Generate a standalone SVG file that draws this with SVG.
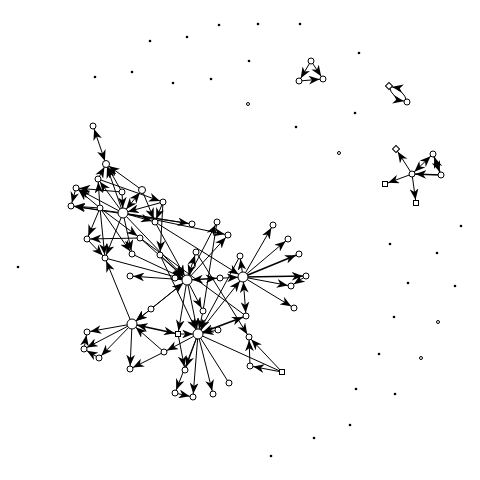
<svg xmlns="http://www.w3.org/2000/svg" width="480" height="480" viewBox="0 0 480 480">
<style>
.e{stroke:#000;stroke-width:1;fill:none}
.n{fill:#fff;stroke:#000;stroke-width:1}
.d{fill:#000}
</style>
<defs>
<marker id="a" viewBox="0 0 10 8" refX="13" refY="4" markerWidth="11" markerHeight="8.8" markerUnits="userSpaceOnUse" orient="auto-start-reverse"><path d="M0,0 L10,4 L0,8 L3,4 z"/></marker>
<marker id="h" viewBox="0 0 10 8" refX="14.5" refY="4" markerWidth="11" markerHeight="8.8" markerUnits="userSpaceOnUse" orient="auto-start-reverse"><path d="M0,0 L10,4 L0,8 L3,4 z"/></marker>
</defs>
<rect width="480" height="480" fill="#fff"/>
<g id="connectors">
<line class="e" x1="93" y1="126" x2="106" y2="164" marker-start="url(#a)" marker-end="url(#a)"/>
<line class="e" x1="123" y1="213" x2="106" y2="164" marker-end="url(#a)"/>
<line class="e" x1="122" y1="192" x2="106" y2="164" marker-end="url(#a)"/>
<line class="e" x1="98" y1="179" x2="106" y2="164" marker-end="url(#a)"/>
<line class="e" x1="142" y1="190" x2="106" y2="164" marker-end="url(#a)"/>
<line class="e" x1="123" y1="213" x2="98" y2="179" marker-end="url(#a)"/>
<line class="e" x1="100" y1="208" x2="98" y2="179" marker-end="url(#a)"/>
<line class="e" x1="123" y1="213" x2="76" y2="188" marker-end="url(#a)"/>
<line class="e" x1="122" y1="192" x2="76" y2="188" marker-end="url(#a)"/>
<line class="e" x1="76" y1="188" x2="71" y2="206" marker-end="url(#a)"/>
<line class="e" x1="100" y1="208" x2="71" y2="206" marker-end="url(#a)"/>
<line class="e" x1="123" y1="213" x2="71" y2="206" marker-end="url(#a)"/>
<line class="e" x1="100" y1="208" x2="76" y2="188" marker-end="url(#a)"/>
<line class="e" x1="122" y1="192" x2="123" y2="213" marker-end="url(#h)"/>
<line class="e" x1="142" y1="190" x2="123" y2="213" marker-start="url(#a)" marker-end="url(#h)"/>
<line class="e" x1="163" y1="202" x2="123" y2="213" marker-end="url(#h)"/>
<line class="e" x1="98" y1="179" x2="163" y2="202" marker-end="url(#a)"/>
<line class="e" x1="140" y1="238" x2="87" y2="239" marker-end="url(#a)"/>
<line class="e" x1="87" y1="239" x2="105" y2="258" marker-end="url(#a)"/>
<line class="e" x1="100" y1="208" x2="105" y2="258" marker-end="url(#a)"/>
<line class="e" x1="123" y1="213" x2="105" y2="258" marker-end="url(#a)"/>
<line class="e" x1="100" y1="208" x2="87" y2="239" marker-end="url(#a)"/>
<line class="e" x1="123" y1="213" x2="155" y2="222" marker-end="url(#a)"/>
<line class="e" x1="123" y1="213" x2="192" y2="224" marker-end="url(#a)"/>
<line class="e" x1="71" y1="206" x2="192" y2="224"/>
<line class="e" x1="123" y1="213" x2="228" y2="235" marker-end="url(#a)"/>
<line class="e" x1="142" y1="190" x2="155" y2="222" marker-end="url(#a)"/>
<line class="e" x1="163" y1="202" x2="160" y2="255" marker-end="url(#a)"/>
<line class="e" x1="163" y1="202" x2="155" y2="222" marker-end="url(#a)"/>
<line class="e" x1="123" y1="213" x2="132" y2="254" marker-end="url(#a)"/>
<line class="e" x1="100" y1="208" x2="132" y2="254" marker-end="url(#a)"/>
<line class="e" x1="100" y1="208" x2="140" y2="238" marker-end="url(#a)"/>
<line class="e" x1="132" y1="254" x2="187" y2="280" marker-end="url(#h)"/>
<line class="e" x1="140" y1="238" x2="187" y2="280" marker-end="url(#h)"/>
<line class="e" x1="155" y1="222" x2="187" y2="280" marker-end="url(#h)"/>
<line class="e" x1="123" y1="213" x2="187" y2="280" marker-end="url(#h)"/>
<line class="e" x1="105" y1="258" x2="187" y2="280" marker-end="url(#h)"/>
<line class="e" x1="160" y1="255" x2="187" y2="280" marker-end="url(#h)"/>
<line class="e" x1="196" y1="252" x2="187" y2="280" marker-start="url(#a)" marker-end="url(#h)"/>
<line class="e" x1="187" y1="280" x2="130" y2="276" marker-end="url(#a)"/>
<line class="e" x1="187" y1="280" x2="217" y2="222" marker-end="url(#a)"/>
<line class="e" x1="187" y1="280" x2="228" y2="235" marker-end="url(#a)"/>
<line class="e" x1="187" y1="280" x2="243" y2="277" marker-start="url(#h)" marker-end="url(#h)"/>
<line class="e" x1="187" y1="280" x2="220" y2="278" marker-end="url(#a)"/>
<line class="e" x1="175" y1="278" x2="187" y2="280"/>
<line class="e" x1="243" y1="277" x2="240" y2="256" marker-end="url(#a)"/>
<line class="e" x1="243" y1="277" x2="273" y2="225" marker-end="url(#a)"/>
<line class="e" x1="243" y1="277" x2="288" y2="239" marker-end="url(#a)"/>
<line class="e" x1="243" y1="277" x2="299" y2="254" marker-end="url(#a)" style="stroke-width:1.5"/>
<line class="e" x1="243" y1="277" x2="306" y2="276" marker-end="url(#a)" style="stroke-width:1.5"/>
<line class="e" x1="243" y1="277" x2="291" y2="286" marker-end="url(#a)"/>
<line class="e" x1="243" y1="277" x2="294" y2="308" marker-end="url(#a)"/>
<line class="e" x1="306" y1="276" x2="291" y2="286" marker-end="url(#a)"/>
<line class="e" x1="243" y1="277" x2="246" y2="316" marker-start="url(#h)" marker-end="url(#a)"/>
<line class="e" x1="198" y1="334" x2="243" y2="277" marker-end="url(#h)"/>
<line class="e" x1="196" y1="252" x2="249" y2="337" marker-end="url(#a)"/>
<line class="e" x1="155" y1="222" x2="243" y2="277" marker-end="url(#h)"/>
<line class="e" x1="140" y1="238" x2="246" y2="316"/>
<line class="e" x1="160" y1="255" x2="198" y2="334" marker-end="url(#h)"/>
<line class="e" x1="240" y1="256" x2="198" y2="334" marker-end="url(#h)"/>
<line class="e" x1="217" y1="222" x2="203" y2="311"/>
<line class="e" x1="151" y1="309" x2="187" y2="280" marker-end="url(#h)"/>
<line class="e" x1="187" y1="280" x2="132" y2="324" marker-end="url(#h)"/>
<line class="e" x1="151" y1="309" x2="132" y2="324" marker-end="url(#h)"/>
<line class="e" x1="187" y1="280" x2="178" y2="334" marker-end="url(#a)"/>
<line class="e" x1="187" y1="280" x2="203" y2="311" marker-end="url(#a)"/>
<line class="e" x1="203" y1="311" x2="198" y2="334" marker-end="url(#h)"/>
<line class="e" x1="187" y1="280" x2="198" y2="334" marker-end="url(#h)"/>
<line class="e" x1="132" y1="324" x2="105" y2="258" marker-end="url(#a)"/>
<line class="e" x1="132" y1="324" x2="87" y2="332" marker-end="url(#a)"/>
<line class="e" x1="132" y1="324" x2="84" y2="349" marker-end="url(#a)"/>
<line class="e" x1="132" y1="324" x2="99" y2="358" marker-end="url(#a)"/>
<line class="e" x1="132" y1="324" x2="130" y2="369" marker-end="url(#a)"/>
<line class="e" x1="164" y1="352" x2="132" y2="324" marker-end="url(#h)"/>
<line class="e" x1="132" y1="324" x2="178" y2="334" marker-start="url(#h)" marker-end="url(#a)" style="stroke-width:1.5"/>
<line class="e" x1="164" y1="352" x2="130" y2="369" marker-end="url(#a)"/>
<line class="e" x1="84" y1="349" x2="87" y2="332" marker-end="url(#a)"/>
<line class="e" x1="99" y1="358" x2="84" y2="349" marker-end="url(#a)"/>
<line class="e" x1="198" y1="334" x2="164" y2="352" marker-end="url(#a)"/>
<line class="e" x1="178" y1="334" x2="198" y2="334" marker-end="url(#h)"/>
<line class="e" x1="178" y1="334" x2="185" y2="370" marker-end="url(#a)"/>
<line class="e" x1="198" y1="334" x2="185" y2="370" marker-end="url(#a)"/>
<line class="e" x1="198" y1="334" x2="175" y2="393" marker-end="url(#a)"/>
<line class="e" x1="198" y1="334" x2="193" y2="397" marker-end="url(#a)"/>
<line class="e" x1="198" y1="334" x2="213" y2="394" marker-end="url(#a)"/>
<line class="e" x1="198" y1="334" x2="229" y2="383"/>
<line class="e" x1="218" y1="330" x2="198" y2="334" marker-end="url(#h)"/>
<line class="e" x1="246" y1="316" x2="198" y2="334" marker-start="url(#a)" marker-end="url(#h)" style="stroke-width:1.5"/>
<line class="e" x1="175" y1="393" x2="193" y2="397" marker-end="url(#a)"/>
<line class="e" x1="282" y1="372" x2="250" y2="366" marker-end="url(#a)"/>
<line class="e" x1="282" y1="372" x2="249" y2="337" marker-end="url(#a)"/>
<line class="e" x1="250" y1="366" x2="249" y2="337" marker-end="url(#a)"/>
<line class="e" x1="282" y1="372" x2="198" y2="334"/>
<line class="e" x1="311" y1="61" x2="299" y2="81" marker-end="url(#a)"/>
<line class="e" x1="311" y1="61" x2="323" y2="79" marker-end="url(#a)"/>
<line class="e" x1="299" y1="81" x2="323" y2="79" marker-end="url(#a)"/>
<path class="e" d="M389,86 Q392,99 407,102" marker-end="url(#a)"/>
<path class="e" d="M407,102 Q404,89 389,86" marker-end="url(#a)"/>
<line class="e" x1="412" y1="174" x2="396" y2="149" marker-end="url(#a)"/>
<line class="e" x1="412" y1="174" x2="385" y2="184" marker-end="url(#a)"/>
<line class="e" x1="412" y1="174" x2="416" y2="203" marker-end="url(#a)"/>
<line class="e" x1="441" y1="175" x2="412" y2="174" marker-end="url(#a)" style="stroke-width:1.5"/>
<line class="e" x1="412" y1="174" x2="433" y2="154" marker-start="url(#a)" marker-end="url(#a)"/>
<line class="e" x1="433" y1="154" x2="441" y2="175" marker-start="url(#a)" marker-end="url(#a)" style="stroke-width:1.5"/>
</g>
<g id="n_a1"><circle class="n" cx="93" cy="126" r="3"/></g>
<g id="n_a2"><circle class="n" cx="106" cy="164" r="3.5"/></g>
<g id="n_a3"><circle class="n" cx="98" cy="179" r="3"/></g>
<g id="n_a4"><circle class="n" cx="76" cy="188" r="3"/></g>
<g id="n_a5"><circle class="n" cx="71" cy="206" r="3"/></g>
<g id="n_a6"><circle class="n" cx="100" cy="208" r="3"/></g>
<g id="n_a7"><circle class="n" cx="123" cy="213" r="5"/></g>
<g id="n_a8"><circle class="n" cx="122" cy="192" r="3"/></g>
<g id="n_a9"><circle class="n" cx="142" cy="190" r="3.5"/></g>
<g id="n_a10"><circle class="n" cx="163" cy="202" r="3"/></g>
<g id="n_a11"><circle class="n" cx="87" cy="239" r="3"/></g>
<g id="n_a12"><circle class="n" cx="105" cy="258" r="3"/></g>
<g id="n_a13"><circle class="n" cx="132" cy="254" r="3"/></g>
<g id="n_a14"><circle class="n" cx="140" cy="238" r="3"/></g>
<g id="n_a15"><circle class="n" cx="155" cy="222" r="3"/></g>
<g id="n_a16"><circle class="n" cx="160" cy="255" r="3"/></g>
<g id="n_a17"><circle class="n" cx="130" cy="276" r="3"/></g>
<g id="n_a18"><circle class="n" cx="192" cy="224" r="3"/></g>
<g id="n_a19"><circle class="n" cx="217" cy="222" r="3"/></g>
<g id="n_a20"><circle class="n" cx="228" cy="235" r="3"/></g>
<g id="n_a21"><circle class="n" cx="196" cy="252" r="3"/></g>
<g id="n_b1"><circle class="n" cx="187" cy="280" r="5"/></g>
<g id="n_b2"><circle class="n" cx="175" cy="278" r="3"/></g>
<g id="n_b3"><circle class="n" cx="220" cy="278" r="3"/></g>
<g id="n_b4"><circle class="n" cx="240" cy="256" r="3"/></g>
<g id="n_b5"><circle class="n" cx="243" cy="277" r="5"/></g>
<g id="n_b6"><circle class="n" cx="273" cy="225" r="3"/></g>
<g id="n_b7"><circle class="n" cx="288" cy="239" r="3"/></g>
<g id="n_b8"><circle class="n" cx="299" cy="254" r="3"/></g>
<g id="n_b9"><circle class="n" cx="306" cy="276" r="3"/></g>
<g id="n_b10"><circle class="n" cx="291" cy="286" r="3"/></g>
<g id="n_b11"><circle class="n" cx="294" cy="308" r="3"/></g>
<g id="n_b12"><circle class="n" cx="246" cy="316" r="3"/></g>
<g id="n_b13"><circle class="n" cx="249" cy="337" r="3"/></g>
<g id="n_b14"><circle class="n" cx="151" cy="309" r="3"/></g>
<g id="n_b15"><circle class="n" cx="203" cy="311" r="3"/></g>
<g id="n_c1"><circle class="n" cx="132" cy="324" r="5"/></g>
<g id="n_c2"><circle class="n" cx="87" cy="332" r="3"/></g>
<g id="n_c3"><circle class="n" cx="84" cy="349" r="3"/></g>
<g id="n_c4"><circle class="n" cx="99" cy="358" r="3"/></g>
<g id="n_c5"><circle class="n" cx="130" cy="369" r="3"/></g>
<g id="n_c6"><circle class="n" cx="164" cy="352" r="3"/></g>
<g id="n_c7"><rect class="n" x="175.5" y="331.5" width="5" height="5"/></g>
<g id="n_c8"><circle class="n" cx="198" cy="334" r="5"/></g>
<g id="n_c9"><circle class="n" cx="218" cy="330" r="3"/></g>
<g id="n_c10"><circle class="n" cx="185" cy="370" r="3"/></g>
<g id="n_c11"><circle class="n" cx="175" cy="393" r="3"/></g>
<g id="n_c12"><circle class="n" cx="193" cy="397" r="3"/></g>
<g id="n_c13"><circle class="n" cx="213" cy="394" r="3"/></g>
<g id="n_c14"><circle class="n" cx="229" cy="383" r="3"/></g>
<g id="n_c15"><circle class="n" cx="250" cy="366" r="3"/></g>
<g id="n_c16"><rect class="n" x="279.5" y="369.5" width="5" height="5"/></g>
<g id="n_t1"><circle class="n" cx="311" cy="61" r="3"/></g>
<g id="n_t2"><circle class="n" cx="299" cy="81" r="3"/></g>
<g id="n_t3"><circle class="n" cx="323" cy="79" r="3"/></g>
<g id="n_d1"><rect class="n" x="386.5" y="83.5" width="5" height="5" transform="rotate(45 389 86)"/></g>
<g id="n_d2"><circle class="n" cx="407" cy="102" r="3"/></g>
<g id="n_s0"><circle class="n" cx="412" cy="174" r="3"/></g>
<g id="n_s1"><rect class="n" x="393.5" y="146.5" width="5" height="5" transform="rotate(45 396 149)"/></g>
<g id="n_s2"><circle class="n" cx="433" cy="154" r="3"/></g>
<g id="n_s3"><circle class="n" cx="441" cy="175" r="3"/></g>
<g id="n_s4"><rect class="n" x="382.5" y="181.5" width="5" height="5"/></g>
<g id="n_s5"><rect class="n" x="413.5" y="200.5" width="5" height="5"/></g>
<g id="isolates">
<circle class="d" cx="150" cy="41" r="1.3"/>
<circle class="d" cx="187" cy="37" r="1.3"/>
<circle class="d" cx="219" cy="25" r="1.3"/>
<circle class="d" cx="258" cy="24" r="1.3"/>
<circle class="d" cx="300" cy="24" r="1.3"/>
<circle class="d" cx="95" cy="77" r="1.3"/>
<circle class="d" cx="132" cy="72" r="1.3"/>
<circle class="d" cx="173" cy="83" r="1.3"/>
<circle class="d" cx="211" cy="79" r="1.3"/>
<circle class="d" cx="249" cy="61" r="1.3"/>
<circle class="d" cx="359" cy="53" r="1.3"/>
<circle class="d" cx="355" cy="113" r="1.3"/>
<circle class="d" cx="296" cy="127" r="1.3"/>
<circle class="d" cx="18" cy="267" r="1.3"/>
<circle class="d" cx="461" cy="226" r="1.3"/>
<circle class="d" cx="390" cy="244" r="1.3"/>
<circle class="d" cx="437" cy="253" r="1.3"/>
<circle class="d" cx="408" cy="283" r="1.3"/>
<circle class="d" cx="455" cy="286" r="1.3"/>
<circle class="d" cx="394" cy="317" r="1.3"/>
<circle class="d" cx="379" cy="354" r="1.3"/>
<circle class="d" cx="356" cy="389" r="1.3"/>
<circle class="d" cx="395" cy="394" r="1.3"/>
<circle class="d" cx="350" cy="425" r="1.3"/>
<circle class="d" cx="314" cy="438" r="1.3"/>
<circle class="d" cx="271" cy="456" r="1.3"/>
<circle class="n" cx="248" cy="104" r="1.5"/>
<circle class="n" cx="339" cy="153" r="1.5"/>
<circle class="n" cx="438" cy="322" r="1.5"/>
<circle class="n" cx="421" cy="358" r="1.5"/>
</g>
</svg>
